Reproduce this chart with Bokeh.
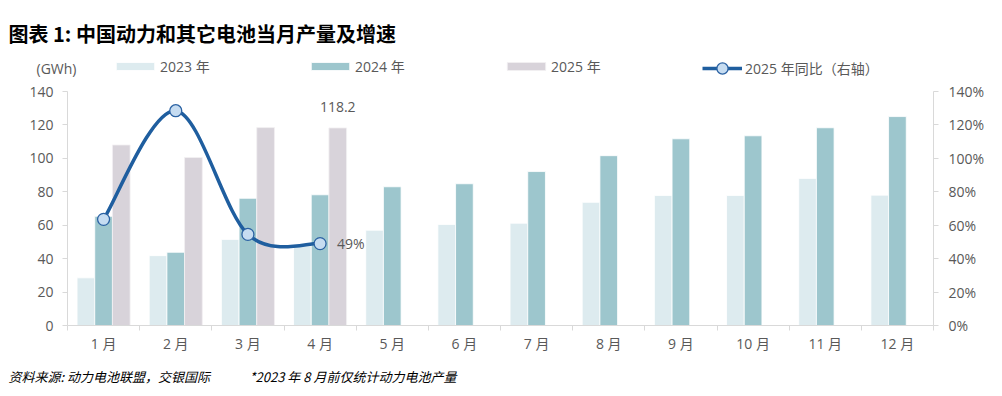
from bokeh.plotting import figure
from bokeh.models import (Range1d, LinearAxis, FixedTicker, NumeralTickFormatter,
                          Legend, LegendItem, Label, ColumnDataSource)
from bokeh.embed import file_html
from bokeh.resources import INLINE
from bokeh.core.properties import value

# ---------------- data ----------------
title_text = "图表 1: 中国动力和其它电池当月产量及增速"
source_note = "资料来源: 动力电池联盟，交银国际"
footnote = "*2023 年 8 月前仅统计动力电池产量"
unit_label = "(GWh)"
months = ["1 月", "2 月", "3 月", "4 月", "5 月", "6 月",
          "7 月", "8 月", "9 月", "10 月", "11 月", "12 月"]
series_names = ["2023 年", "2024 年", "2025 年", "2025 年同比（右轴）"]
prod_2023 = [28.5, 41.8, 51.5, 47.6, 57.0, 60.4, 61.2, 73.7, 77.8, 77.8, 88.0, 78.0]
prod_2024 = [65.3, 43.8, 76.1, 78.2, 83.0, 84.8, 92.1, 101.6, 111.7, 113.5, 118.3, 125.0]
prod_2025 = [108.0, 100.5, 118.4, 118.2]
yoy_2025 = [0.635, 1.285, 0.545, 0.49]
left_ticks = [0, 20, 40, 60, 80, 100, 120, 140]
right_ticks = [0, 0.2, 0.4, 0.6, 0.8, 1.0, 1.2, 1.4]

# ---------------- style ----------------
W, H = 1002, 396
FONT = "Open Sans, Noto Sans CJK SC"
CJK = "Noto Sans CJK SC"
FS = "14px"
GRAY = "#595959"
AXIS = "#D9D9D9"
C23, C24, C25 = "#DDEBEF", "#9DC6CD", "#D8D3DA"
LINE = "#1F5E9F"
MARK = "#C6DCF1"
MARK_LINE = "#2B62A3"

FL, FR, FB = 67, 933, 325     # frame left / right / bottom (canvas px)
AXIS_TOP = 91                 # where the axes' top tick sits
FT = 56                       # frame top (extended so the legend row is inside the frame)
FRAME_W = FR - FL
YMAX_L = left_ticks[-1]
YMAX_R = right_ticks[-1]
scale_up = (FB - FT) / (FB - AXIS_TOP)

n = len(months)
x = list(range(1, n + 1))
bw = 0.245

p = figure(width=W, height=H, x_range=Range1d(0.5, n + 0.5),
           y_range=Range1d(0, YMAX_L * scale_up),
           toolbar_location=None, output_backend="svg",
           min_border_left=FL, min_border_right=W - FR, min_border_top=FT,
           min_border_bottom=H - FB, outline_line_color=None)
p.xgrid.visible = False
p.ygrid.visible = False
p.extra_y_ranges = {"pct": Range1d(0, YMAX_R * scale_up)}

r23 = p.vbar(x=[v - bw for v in x], top=prod_2023, width=bw, fill_color=C23,
             line_color="white", line_width=0.8)
r24 = p.vbar(x=x, top=prod_2024, width=bw, fill_color=C24, line_color="white", line_width=0.8)
x25 = [v + bw for v in x[:len(prod_2025)]]
r25 = p.vbar(x=x25, top=prod_2025, width=bw, fill_color=C25, line_color="#F2F0F3", line_width=0.8)

# smoothed YoY line (Catmull-Rom style bezier through the data points)
xs = x[:len(yoy_2025)]
m = len(xs)
bz = dict(x0=[], y0=[], x1=[], y1=[], cx0=[], cy0=[], cx1=[], cy1=[])
for i in range(m - 1):
    pm = max(i - 1, 0)
    pn = min(i + 2, m - 1)
    bz["x0"].append(xs[i]); bz["y0"].append(yoy_2025[i])
    bz["x1"].append(xs[i + 1]); bz["y1"].append(yoy_2025[i + 1])
    bz["cx0"].append(xs[i] + (xs[i + 1] - xs[pm]) / 6)
    bz["cy0"].append(yoy_2025[i] + (yoy_2025[i + 1] - yoy_2025[pm]) / 6)
    bz["cx1"].append(xs[i + 1] - (xs[pn] - xs[i]) / 6)
    bz["cy1"].append(yoy_2025[i + 1] - (yoy_2025[pn] - yoy_2025[i]) / 6)
p.bezier(source=ColumnDataSource(bz), x0="x0", y0="y0", x1="x1", y1="y1",
         cx0="cx0", cy0="cy0", cx1="cx1", cy1="cy1",
         line_color=LINE, line_width=3.5, y_range_name="pct")
# single-point line: draws nothing itself, only provides the legend's line sample
line_legend = p.line(x=xs[:1], y=yoy_2025[:1], line_color=LINE, line_width=3.5,
                     y_range_name="pct")
rm = p.scatter(x=xs, y=yoy_2025, size=12, fill_color=MARK, line_color=MARK_LINE,
               line_width=1.3, y_range_name="pct")

# data labels
p.text(x=[x25[-1]], y=[prod_2025[-1]], text=[f"{prod_2025[-1]:.1f}"], text_font=value(FONT),
       text_font_size=FS, text_color=GRAY, text_align="center", text_baseline="middle",
       y_offset=-21)
p.text(x=[xs[-1]], y=[yoy_2025[-1]], text=[f"{yoy_2025[-1] * 100:.0f}%"], text_font=value(FONT),
       text_font_size=FS, text_color=GRAY, text_align="left", text_baseline="middle",
       x_offset=17, y_range_name="pct")

# axes
xa = p.xaxis[0]
xa.ticker = FixedTicker(ticks=x, minor_ticks=[v - 0.5 for v in x] + [n + 0.5])
xa.major_label_overrides = {v: lab for v, lab in zip(x, months)}
xa.major_tick_out = 0
xa.major_tick_in = 0
xa.minor_tick_out = 5
xa.minor_tick_in = 0
xa.minor_tick_line_color = AXIS
xa.major_label_standoff = 3

ya = p.yaxis[0]
ya.ticker = FixedTicker(ticks=left_ticks)
ya.bounds = (0, YMAX_L)
ya.major_tick_out = 5
ya.major_tick_in = 0
ya.minor_tick_line_color = None
ya.major_label_standoff = 9

yr = LinearAxis(y_range_name="pct", ticker=FixedTicker(ticks=right_ticks),
                formatter=NumeralTickFormatter(format="0%"), bounds=(0, YMAX_R))
yr.major_tick_out = 5
yr.major_tick_in = 0
yr.minor_tick_line_color = None
yr.major_label_standoff = 10
p.add_layout(yr, "right")

for ax in (xa, ya, yr):
    ax.axis_line_color = AXIS
    ax.major_tick_line_color = AXIS
    ax.major_label_text_font = FONT
    ax.major_label_text_font_size = FS
    ax.major_label_text_color = GRAY
xa.major_tick_line_color = None

# legends (inside the extended frame; location relative to frame bottom-left)
leg_center_y = 68
legend_specs = [
    (series_names[0], [r23], 116 - 5, 48, 10, 1),
    (series_names[1], [r24], 311 - 5, 48, 10, 1),
    (series_names[2], [r25], 507 - 5, 48, 10, 1),
    (series_names[3], [line_legend, rm], 702, 40, 28, 3),
]
for name, rends, lx, gw, gh, st in legend_specs:
    hh = max(gh, 16)
    lg = Legend(items=[LegendItem(label=name, renderers=rends)],
                location=(lx - FL, FB - (leg_center_y + hh / 2)),
                orientation="horizontal", glyph_width=gw, glyph_height=gh,
                label_standoff=st, label_height=16, padding=0, margin=0, spacing=0,
                border_line_color=None, background_fill_alpha=0,
                label_text_font=FONT, label_text_font_size=FS, label_text_color=GRAY)
    p.add_layout(lg)


def canvas_label(cx, cy, text, **kw):
    return Label(x=cx, y=cy, x_units="canvas", y_units="canvas", text=text, **kw)


def add_rule(x0, x1, yc, thick, side):
    """Horizontal black rule outside the frame: a blank label whose padded
    background box forms the rule (explicit left/right/top/bottom padding)."""
    half = int(round((x1 - x0) / 2))
    try:
        rule = canvas_label((x0 + x1) / 2, yc, " ",
                            padding=dict(left=half, right=half, top=0, bottom=0),
                            text_font=CJK, text_font_size=f"{thick / 1.2:.2f}px",
                            text_align="center", text_baseline="middle", text_alpha=0,
                            background_fill_color="#000000", background_fill_alpha=1,
                            border_line_color=None)
    except (ValueError, AttributeError, TypeError):
        return
    p.add_layout(rule, side)


# texts and rules outside the frame live in side panels (not clipped to the frame)
p.add_layout(canvas_label(56, 68, unit_label, text_font=FONT, text_font_size=FS,
                          text_color=GRAY, text_align="center", text_baseline="middle"), "above")
p.add_layout(canvas_label(8, 33, title_text, text_font=CJK, text_font_size="20px",
                          text_font_style="bold", text_color="#000000",
                          text_align="left", text_baseline="middle"), "above")
p.add_layout(canvas_label(8, 376, source_note, text_font=CJK, text_font_size="13px",
                          text_font_style="italic", text_color="#000000",
                          text_align="left", text_baseline="middle"), "below")
p.add_layout(canvas_label(249, 376, footnote, text_font=CJK, text_font_size="13px",
                          text_font_style="italic", text_color="#000000",
                          text_align="left", text_baseline="middle"), "below")
add_rule(5, 995, 48.5, 1.6, "above")
add_rule(5, 995, 361, 2, "below")

open("out.html", "w").write(file_html(p, INLINE))
